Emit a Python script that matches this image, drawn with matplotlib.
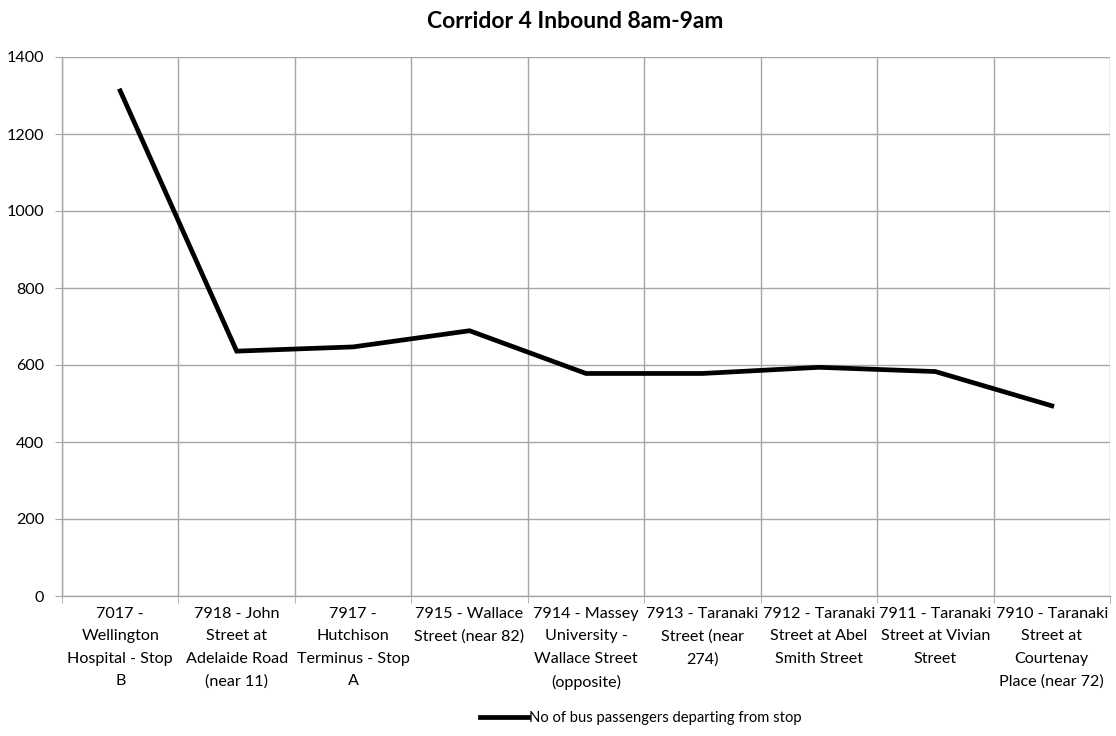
import matplotlib.pyplot as plt
import numpy as np

plt.rcParams['font.family'] = ['Lato', 'DejaVu Sans']

stops = [
    '7017 -\nWellington\nHospital - Stop\nB',
    '7918 - John\nStreet at\nAdelaide Road\n(near 11)',
    '7917 -\nHutchison\nTerminus - Stop\nA',
    '7915 - Wallace\nStreet (near 82)',
    '7914 - Massey\nUniversity -\nWallace Street\n(opposite)',
    '7913 - Taranaki\nStreet (near\n274)',
    '7912 - Taranaki\nStreet at Abel\nSmith Street',
    '7911 - Taranaki\nStreet at Vivian\nStreet',
    '7910 - Taranaki\nStreet at\nCourtenay\nPlace (near 72)',
]
passengers = [1312, 636, 647, 689, 578, 578, 594, 583, 494]
yticks = [0, 200, 400, 600, 800, 1000, 1200, 1400]

grid_col = '#A6A6A6'

fig = plt.figure(figsize=(11.16, 7.36), dpi=100)
ax = fig.add_axes([62 / 1116, 1 - 596 / 736, 1048 / 1116, 539 / 736])

x = np.arange(len(stops))
ax.plot(x, passengers, color='black', linewidth=3.4, solid_joinstyle='miter',
        label='No of bus passengers departing from stop', zorder=3)

ax.set_xlim(-0.5, len(stops) - 0.5)
ax.set_ylim(0, 1400)
ax.set_yticks(yticks)
ax.set_xticks(x)
ax.set_xticklabels(stops, fontsize=11.6, linespacing=1.75)
ax.set_xticks(np.arange(len(stops) + 1) - 0.5, minor=True)
ax.tick_params(axis='x', which='major', length=0, pad=8)
ax.tick_params(axis='x', which='minor', length=5, color=grid_col)
ax.tick_params(axis='y', length=5, color=grid_col, labelsize=11.6, pad=8)

ax.grid(axis='y', color=grid_col, linewidth=1)
ax.grid(axis='x', which='minor', color=grid_col, linewidth=1)
for s in ['top', 'right']:
    ax.spines[s].set_visible(False)
for s in ['left', 'bottom']:
    ax.spines[s].set_color(grid_col)
    ax.spines[s].set_linewidth(1)

fig.text(575 / 1116, 1 - 21 / 736, 'Corridor 4 Inbound 8am-9am', ha='center', va='center',
         fontsize=16.5, fontweight='bold')

# legend sits a bit right of centre in the original
fig.legend(loc='center', bbox_to_anchor=(641 / 1116, 1 - 718 / 736), frameon=False,
           fontsize=10.6, handlelength=3.2, handletextpad=0.1)

fig.savefig('out.png', dpi=100)
